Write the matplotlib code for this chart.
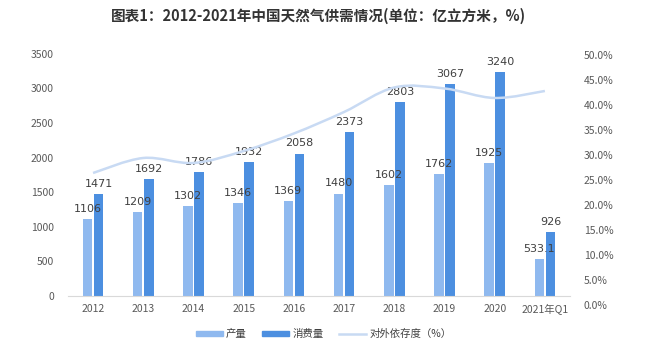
import numpy as np
import matplotlib.pyplot as plt
from matplotlib.path import Path
from matplotlib.patches import PathPatch
from matplotlib.lines import Line2D
from matplotlib.patches import Patch

plt.rcParams['font.family'] = ['Noto Sans CJK SC', 'DejaVu Sans']

categories = ['2012', '2013', '2014', '2015', '2016', '2017', '2018', '2019', '2020', '2021年Q1']
production = [1106, 1209, 1302, 1346, 1369, 1480, 1602, 1762, 1925, 533.1]
consumption = [1471, 1692, 1786, 1932, 2058, 2373, 2803, 3067, 3240, 926]
dependence = [26.4, 29.4, 28.4, 30.8, 34.3, 38.6, 43.5, 43.3, 41.4, 42.8]

light = '#8FB9EF'
dark = '#4C8FE0'
line_c = '#C8DAF3'
txt = '#404040'

fig = plt.figure(figsize=(6.47, 3.64), dpi=100)
ax = fig.add_axes([0.105, 0.187, 0.776, 0.665])
x = np.arange(len(categories))
w = 0.19
ax.bar(x - 0.11, production, w, color=light)
ax.bar(x + 0.11, consumption, w, color=dark)
for i in range(len(x)):
    ax.text(x[i] - 0.11, production[i] + 75, f'{production[i]:g}', ha='center', va='bottom',
            fontsize=8, color=txt, family='DejaVu Sans')
    ax.text(x[i] + 0.11, consumption[i] + 75, f'{consumption[i]:g}', ha='center', va='bottom',
            fontsize=8, color=txt, family='DejaVu Sans')

ax.set_xlim(-0.5, len(x) - 0.5)
ax.set_ylim(0, 3500)
ax.set_yticks(range(0, 3501, 500))
ax.set_xticks(x)
ax.set_xticklabels(categories)
for s in ['top', 'right', 'left']:
    ax.spines[s].set_visible(False)
ax.spines['bottom'].set_color('#d9d9d9')
ax.tick_params(axis='both', length=0, labelsize=7.5, labelcolor='#595959')
ax.tick_params(axis='y', pad=10)
ax.tick_params(axis='x', pad=6)

# right axis (slightly offset, as in the source)
ax2 = fig.add_axes([0.105, 0.162, 0.776, 0.687])
ax2.set_xlim(-0.5, len(x) - 0.5)
ax2.set_ylim(0, 50)
ax2.patch.set_alpha(0)
for s in ax2.spines.values():
    s.set_visible(False)
ax2.set_xticks([])
ax2.yaxis.tick_right()
ax2.set_yticks(range(0, 51, 5))
ax2.set_yticklabels([f'{v:.1f}%' for v in range(0, 51, 5)])
ax2.tick_params(axis='y', length=0, labelsize=7.5, labelcolor='#595959', pad=10)

# smoothed line (Catmull-Rom style Bezier through data points)
pts = np.column_stack([x, dependence])
verts = [tuple(pts[0])]
codes = [Path.MOVETO]
t = 1 / 6
for i in range(len(pts) - 1):
    p0 = pts[i - 1] if i > 0 else pts[i]
    p1 = pts[i]
    p2 = pts[i + 1]
    p3 = pts[i + 2] if i + 2 < len(pts) else pts[i + 1]
    c1 = p1 + (p2 - p0) * t
    c2 = p2 - (p3 - p1) * t
    verts += [tuple(c1), tuple(c2), tuple(p2)]
    codes += [Path.CURVE4] * 3
ax2.add_patch(PathPatch(Path(verts, codes), fill=False, edgecolor=line_c, lw=1.8))

fig.text(0.493, 0.955, '图表1：2012-2021年中国天然气供需情况(单位：亿立方米，%)',
         ha='center', va='center', fontsize=10.5, fontweight='bold', color='#333333')

handles = [Patch(color=light), Patch(color=dark), Line2D([], [], color=line_c, lw=1.8)]
fig.legend(handles, ['产量', '消费量', '对外依存度（%）'], loc='center', bbox_to_anchor=(0.5, 0.082),
           ncol=3, frameon=False, fontsize=7.5, handlelength=2.6, handleheight=0.5,
           columnspacing=1.5, handletextpad=0.3, labelcolor='#404040')

fig.savefig('out.png', dpi=100)
